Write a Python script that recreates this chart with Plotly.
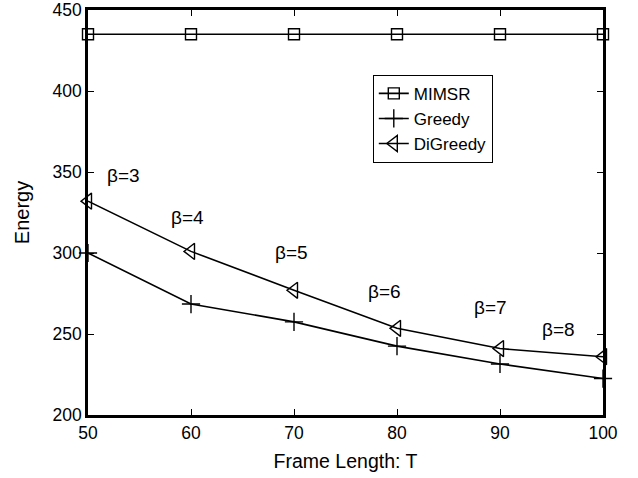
import plotly.graph_objects as go

frame_length = [50, 60, 70, 80, 90, 100]
mimsr = [435, 435, 435, 435, 435, 435]
greedy = [300, 268.5, 257.5, 242.5, 231.5, 222.5]
digreedy = [332, 301, 277, 253.5, 241, 236]

beta_labels = ["β=3", "β=4", "β=5", "β=6", "β=7", "β=8"]
beta_x = [53.4, 59.7, 69.8, 78.8, 89.1, 95.7]
beta_y = [348, 322, 300.5, 276, 266.5, 252.5]

FONT = "Liberation Sans, Arial, Helvetica, sans-serif"

fig = go.Figure()
fig.add_trace(go.Scatter(
    x=frame_length, y=mimsr, name="MIMSR", mode="lines+markers",
    line=dict(color="black", width=1.6),
    marker=dict(symbol="square-open", size=11, color="black", line=dict(width=1.4)),
    cliponaxis=False,
))
fig.add_trace(go.Scatter(
    x=frame_length, y=greedy, name="Greedy", mode="lines+markers",
    line=dict(color="black", width=1.6),
    marker=dict(symbol="cross-thin-open", size=13, color="black", line=dict(width=1.4, color="black")),
    cliponaxis=False,
))
fig.add_trace(go.Scatter(
    x=frame_length, y=digreedy, name="DiGreedy", mode="lines+markers",
    line=dict(color="black", width=1.6),
    marker=dict(symbol="triangle-left-open", size=14, color="black", line=dict(width=1.4)),
    cliponaxis=False,
))

for t, x, y in zip(beta_labels, beta_x, beta_y):
    fig.add_annotation(x=x, y=y, text=t, showarrow=False,
                       font=dict(family=FONT, size=19, color="black"))

axis_common = dict(
    showgrid=False, zeroline=False, showline=True, linecolor="black", linewidth=2.5,
    mirror="allticks", ticks="inside", ticklen=6, tickcolor="black", tickwidth=1.2,
    tickfont=dict(family=FONT, size=17.5, color="black"), automargin=False,
)

fig.update_xaxes(range=[50, 100], tickvals=[50, 60, 70, 80, 90, 100],
                 title=dict(text="Frame Length: T", font=dict(family=FONT, size=19.5, color="black"), standoff=13),
                 **axis_common)
fig.update_yaxes(range=[200, 450], tickvals=[200, 250, 300, 350, 400, 450],
                 title=dict(text="Energy", font=dict(family=FONT, size=20, color="black"), standoff=18),
                 **axis_common)

fig.update_layout(
    width=638, height=478,
    margin=dict(l=88, r=35, t=10, b=63),
    plot_bgcolor="white", paper_bgcolor="white",
    font=dict(family=FONT, size=17, color="black"),
    legend=dict(x=0.553, y=0.84, xanchor="left", yanchor="top",
                bordercolor="black", borderwidth=1, bgcolor="white",
                font=dict(family=FONT, size=17, color="black"),
                tracegroupgap=0, itemwidth=30),
)

fig.write_html("out.html")
